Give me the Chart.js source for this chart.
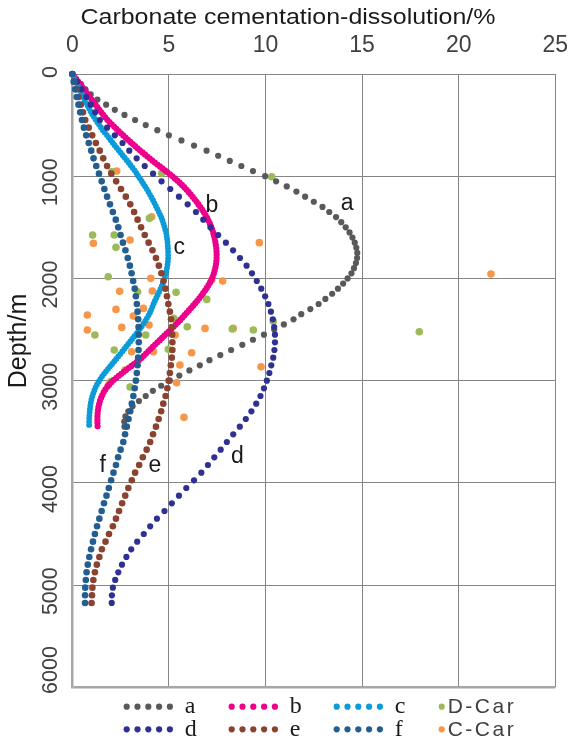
<!DOCTYPE html>
<html>
<head>
<meta charset="utf-8">
<script src="https://cdn.jsdelivr.net/npm/chart.js@4.4.0/dist/chart.umd.min.js"></script>
<style>
  html, body { margin: 0; padding: 0; background: #fff; }
</style>
</head>
<body>
<canvas id="myChart" width="569" height="740"></canvas>
<script>
// depth (m) of the model curves
var depth50 = [0,50,100,150,200,250,300,350,400,450,500,550,600,650,700,750,800,850,900,950,1000,1050,1100,1150,1200,1250,1300,1350,1400,1450,1500,1550,1600,1650,1700,1750,1800,1850,1900,1950,2000,2050,2100,2150,2200,2250,2300,2350,2400,2450,2500,2550,2600,2650,2700,2750,2800,2850,2900,2950,3000,3050,3100,3150,3200,3250,3300,3350,3400,3450];
var depth75 = [0,75,150,225,300,375,450,525,600,675,750,825,900,975,1050,1125,1200,1275,1350,1425,1500,1575,1650,1725,1800,1875,1950,2025,2100,2175,2250,2325,2400,2475,2550,2625,2700,2775,2850,2925,3000,3075,3150,3225,3300,3375,3450,3525,3600,3675,3750,3825,3900,3975,4050,4125,4200,4275,4350,4425,4500,4575,4650,4725,4800,4875,4950,5025,5100,5175];

// carbonate cementation-dissolution (%) along depth50
var curveA = [0,0.2,0.45,0.68,0.95,1.3,1.75,2.2,2.7,3.25,3.8,4.4,5.0,5.65,6.3,6.95,7.55,8.15,8.75,9.35,9.98,10.55,11.1,11.6,12.05,12.5,12.95,13.3,13.65,13.92,14.15,14.35,14.5,14.62,14.7,14.75,14.74,14.68,14.58,14.45,14.25,14.02,13.75,13.45,13.1,12.75,12.32,11.85,11.45,10.95,10.45,9.92,9.35,8.8,8.22,7.66,7.1,6.6,6.06,5.54,5.05,4.6,4.17,3.8,3.45,3.12,2.9,2.75,2.69,2.7];
var curveB = [0,0.2,0.4,0.6,0.8,1.0,1.2,1.4,1.6,1.82,2.08,2.35,2.63,2.92,3.22,3.52,3.84,4.16,4.5,4.85,5.18,5.48,5.76,6.0,6.22,6.43,6.62,6.8,6.96,7.09,7.2,7.29,7.36,7.41,7.45,7.47,7.47,7.45,7.4,7.33,7.24,7.1,6.94,6.75,6.55,6.33,6.1,5.86,5.62,5.36,5.1,4.82,4.55,4.27,4.0,3.74,3.45,3.1,2.75,2.42,2.1,1.85,1.66,1.53,1.43,1.36,1.32,1.3,1.3,1.31];
var curveC = [0,0.12,0.25,0.38,0.5,0.63,0.77,0.9,1.05,1.22,1.4,1.58,1.8,2.0,2.2,2.42,2.63,2.85,3.05,3.25,3.42,3.6,3.77,3.93,4.08,4.22,4.35,4.48,4.6,4.7,4.78,4.85,4.9,4.93,4.95,4.96,4.96,4.94,4.9,4.85,4.78,4.68,4.57,4.45,4.32,4.2,4.1,3.98,3.83,3.66,3.48,3.28,3.07,2.86,2.65,2.44,2.22,2.0,1.78,1.57,1.4,1.24,1.13,1.04,0.97,0.93,0.9,0.88,0.87,0.87];

// along depth75
var curveD = [0,0.25,0.48,0.72,0.95,1.18,1.43,1.8,2.2,2.6,2.95,3.33,3.75,4.18,4.62,5.07,5.52,5.97,6.4,6.78,7.15,7.55,7.95,8.32,8.68,9.02,9.3,9.55,9.78,9.98,10.15,10.28,10.38,10.45,10.49,10.49,10.46,10.4,10.3,10.2,10.07,9.92,9.74,9.52,9.27,8.98,8.67,8.33,8.0,7.68,7.35,7.02,6.68,6.3,5.9,5.52,5.15,4.77,4.38,4.03,3.7,3.36,3.05,2.8,2.57,2.38,2.22,2.1,2.05,2.04];
var curveE = [0,0.1,0.22,0.33,0.44,0.55,0.67,0.85,1.03,1.22,1.42,1.6,1.8,2.02,2.27,2.52,2.77,3.0,3.2,3.38,3.56,3.75,3.95,4.15,4.33,4.48,4.61,4.72,4.82,4.9,4.97,5.05,5.11,5.15,5.17,5.18,5.18,5.15,5.1,5.05,4.99,4.92,4.83,4.71,4.6,4.47,4.33,4.18,4.03,3.85,3.65,3.46,3.25,3.08,2.9,2.74,2.58,2.42,2.26,2.1,1.9,1.72,1.53,1.4,1.27,1.17,1.09,1.04,1.02,1.0];
var curveF = [0,0.07,0.15,0.23,0.32,0.41,0.5,0.6,0.72,0.85,0.98,1.1,1.24,1.38,1.52,1.66,1.8,1.95,2.1,2.25,2.38,2.5,2.62,2.75,2.87,2.98,3.07,3.15,3.23,3.29,3.34,3.38,3.41,3.43,3.44,3.44,3.43,3.41,3.38,3.34,3.29,3.23,3.16,3.08,3.0,2.91,2.82,2.73,2.64,2.5,2.37,2.26,2.13,2.01,1.89,1.77,1.64,1.52,1.4,1.28,1.17,1.07,0.97,0.88,0.8,0.74,0.7,0.67,0.66,0.66];

// measured samples
var dCarX = [10.32,2.04,4.63,3.99,1.05,2.17,2.26,1.86,5.37,3.38,6.96,5.26,1.17,3.8,5.95,8.28,9.37,10.4,2.17,4.97,1.99,2.99,17.96];
var dCarDepth = [1005,956,972,1412,1575,1575,1696,1983,2136,2130,2205,2391,2554,2554,2472,2495,2505,2420,2700,2694,3010,3062,2521];
var cCarX = [2.3,4.11,1.09,2.99,9.68,4.06,4.14,2.45,7.78,7.22,21.67,2.26,0.78,3.16,3.68,0.78,2.56,3.97,5.32,6.87,8.33,3.07,4.2,6.18,2.73,5.57,5.4,9.77,1.87,5.78];
var cCarDepth = [949,1396,1657,1624,1650,1999,2123,2125,2025,2016,1957,2303,2358,2368,2293,2505,2479,2456,2554,2489,2489,2717,2717,2727,2896,2847,3020,2864,3043,3359];

var xTicks = [0,5,10,15,20,25];
var yTicks = [0,1000,2000,3000,4000,5000,6000];

// curve names written next to the curves (value, depth)
var curveNames = ["a","b","c","d","e","f"];
var nameX = [14.22,7.22,5.54,8.54,4.28,1.57];
var nameDepth = [1331,1347,1764,3803,3891,3891];

var colA = "#595959", colB = "#ec008c", colC = "#0b9bd8", colD = "#2e3192",
    colE = "#8b4330", colF = "#235e92", colDCar = "#9bbb59", colCCar = "#f79646";

function pts(xs, ds) {
  return ds.map(function (d, i) { return { x: xs[i], y: d }; });
}

function dotted(label, xs, ds, color, r) {
  return { label: label, data: pts(xs, ds), showLine: false, clip: false,
    pointRadius: r, pointBackgroundColor: color, pointBorderWidth: 0, borderWidth: 0 };
}
function beads(label, xs, ds, color, w) {
  return { label: label, data: pts(xs, ds), showLine: true, clip: false,
    borderColor: color, borderWidth: w, borderDash: [0, 3.2], borderCapStyle: "round",
    borderJoinStyle: "round", pointRadius: 0 };
}

// all texts of the figure
var textPlugin = {
  id: "texts",
  afterDraw: function (chart) {
    var ctx = chart.ctx;
    var xs = chart.scales.x, ys = chart.scales.y;
    ctx.save();
    ctx.textAlign = "center";
    ctx.textBaseline = "middle";

    // x title
    ctx.fillStyle = "#1a1a1a";
    ctx.font = "22.5px 'Liberation Sans'";
    var title = "Carbonate cementation-dissolution/%";
    var w = ctx.measureText(title).width;
    ctx.save();
    ctx.translate(288, 18);
    ctx.scale(415 / w, 1);
    ctx.fillText(title, 0, 0);
    ctx.restore();

    // x ticks
    ctx.fillStyle = "#404040";
    ctx.font = "23px 'Liberation Sans'";
    xTicks.forEach(function (t) {
      ctx.fillText(String(t), xs.getPixelForValue(t), 46);
    });

    // y ticks, rotated
    ctx.font = "21.5px 'Liberation Sans'";
    yTicks.forEach(function (t) {
      var s = String(t);
      var cy = Math.min(ys.getPixelForValue(t) + (s.length - 1) * 2.7 - 2, 670);
      ctx.save();
      ctx.translate(51, cy);
      ctx.rotate(-Math.PI / 2);
      ctx.fillText(s, 0, 0);
      ctx.restore();
    });

    // y title
    ctx.fillStyle = "#1a1a1a";
    ctx.font = "25px 'Liberation Sans'";
    ctx.save();
    ctx.translate(19, 341);
    ctx.rotate(-Math.PI / 2);
    ctx.fillText("Depth/m", 0, 0);
    ctx.restore();

    // curve names
    ctx.textBaseline = "alphabetic";
    ctx.font = "23px 'Liberation Sans'";
    curveNames.forEach(function (n, i) {
      ctx.fillText(n, xs.getPixelForValue(nameX[i]), ys.getPixelForValue(nameDepth[i]));
    });

    // legend
    var colX = [126.7, 231.7, 336.7, 441.7];
    var rowY = [706.7, 729.3];
    var items = [
      ["a", colA, 0, 0], ["b", colB, 1, 0], ["c", colC, 2, 0], ["D-Car", colDCar, 3, 0],
      ["d", colD, 0, 1], ["e", colE, 1, 1], ["f", colF, 2, 1], ["C-Car", colCCar, 3, 1]
    ];
    ctx.textAlign = "left";
    ctx.textBaseline = "middle";
    items.forEach(function (it) {
      var x0 = colX[it[2]], y0 = rowY[it[3]];
      ctx.fillStyle = it[1];
      if (it[2] < 3) {
        for (var k = 0; k < 5; k++) {
          ctx.beginPath();
          ctx.arc(x0 + k * 10.8, y0, 3.1, 0, Math.PI * 2);
          ctx.fill();
        }
        ctx.fillStyle = "#1a1a1a";
        ctx.font = "24px 'Liberation Serif'";
        ctx.letterSpacing = "0px";
        ctx.fillText(it[0], x0 + 58, y0);
      } else {
        ctx.beginPath();
        ctx.arc(x0, y0, 3.1, 0, Math.PI * 2);
        ctx.fill();
        ctx.fillStyle = "#404040";
        ctx.font = "21px 'Liberation Sans'";
        ctx.letterSpacing = "2.5px";
        ctx.fillText(it[0], x0 + 6, y0 + 1);
      }
    });
    ctx.letterSpacing = "0px";
    ctx.restore();
  }
};

var ctx = document.getElementById("myChart").getContext("2d");
var myChart = new Chart(ctx, {
  type: "scatter",
  data: {
    datasets: [
      dotted("f", curveF, depth75, colF, 3.3),
      dotted("e", curveE, depth75, colE, 3.3),
      dotted("d", curveD, depth75, colD, 3.1),
      beads("c", curveC, depth50, colC, 5.8),
      beads("b", curveB, depth50, colB, 6.2),
      dotted("a", curveA, depth50, colA, 3.1),
      dotted("D-Car", dCarX, dCarDepth, colDCar, 3.8),
      dotted("C-Car", cCarX, cCarDepth, colCCar, 3.8)
    ]
  },
  options: {
    responsive: false,
    animation: false,
    layout: { padding: { left: 0, right: 13.7, top: 0, bottom: 52.7 } },
    plugins: {
      legend: { display: false },
      tooltip: { enabled: false }
    },
    scales: {
      x: {
        type: "linear",
        position: "top",
        min: 0,
        max: 25,
        ticks: { stepSize: 5, display: false },
        grid: {
          drawTicks: false,
          lineWidth: 1,
          color: function (c) { return c.tick && c.tick.value === 0 ? "rgba(0,0,0,0)" : "#858585"; }
        },
        border: { color: "#858585", width: 1 },
        afterFit: function (s) { s.height = 74; }
      },
      y: {
        type: "linear",
        reverse: true,
        min: 0,
        max: 6000,
        ticks: { stepSize: 1000, display: false },
        grid: {
          drawTicks: false,
          color: function (c) { return c.tick && c.tick.value === 6000 ? "#a6a6a6" : "#858585"; },
          lineWidth: function (c) { return c.tick && c.tick.value === 6000 ? 2.5 : 1; }
        },
        border: { color: "#a6a6a6", width: 2.5 },
        afterFit: function (s) { s.width = 72.3; }
      }
    }
  },
  plugins: [textPlugin]
});
</script>
</body>
</html>
